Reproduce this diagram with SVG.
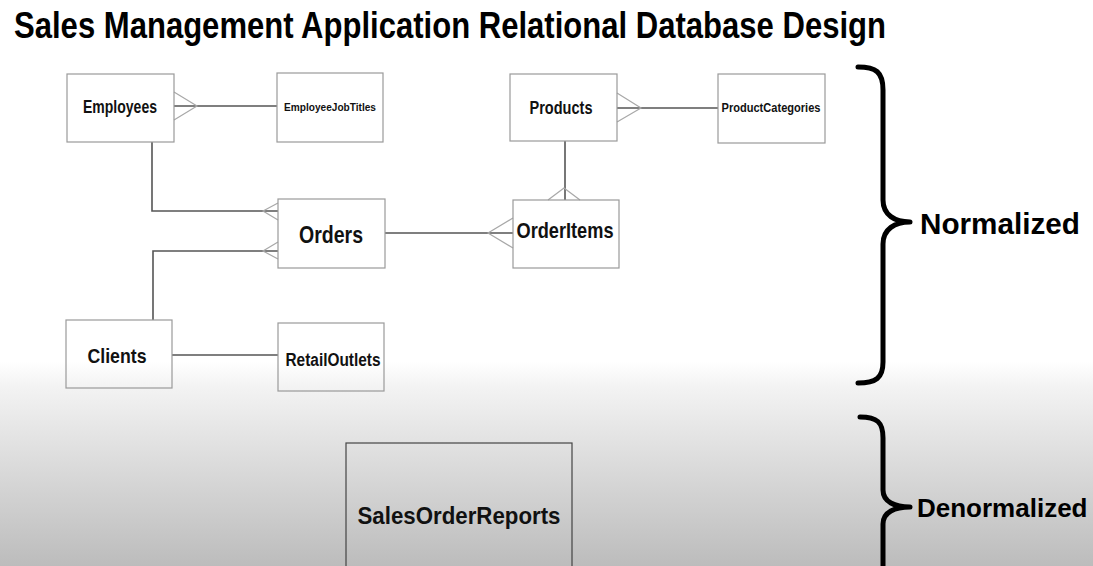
<svg xmlns="http://www.w3.org/2000/svg" width="1093" height="566" viewBox="0 0 1093 566">
<defs>
<linearGradient id="bg" gradientUnits="userSpaceOnUse" x1="0" y1="362" x2="0" y2="566">
<stop offset="0" stop-color="#ffffff"/>
<stop offset="0.12" stop-color="#f3f3f3"/>
<stop offset="1" stop-color="#bcbcbc"/>
</linearGradient>
<style>
.box{fill:none;stroke:#9a9a9a;stroke-width:1.2}
.t{font-family:"Liberation Sans",Arial,sans-serif;font-weight:bold;fill:#111;text-anchor:middle}
.ln{fill:none;stroke:#555;stroke-width:1.6}
.cf{fill:none;stroke:#a8a8a8;stroke-width:1.2}
.br{fill:none;stroke:#000;stroke-width:5;stroke-linecap:round;stroke-linejoin:round}
</style>
</defs>
<rect x="0" y="0" width="1093" height="566" fill="url(#bg)"/>
<text x="14" y="38" font-family="'Liberation Sans',Arial,sans-serif" font-weight="bold" font-size="36" fill="#000" textLength="872" lengthAdjust="spacingAndGlyphs">Sales Management Application Relational Database Design</text>

<g id="connectors">
<line class="ln" x1="174" y1="106" x2="277" y2="106"/>
<path class="cf" d="M174,92 L197,106 L174,120"/>
<line class="ln" x1="617" y1="108" x2="718" y2="108"/>
<path class="cf" d="M617,93 L641,108 L617,122"/>
<path class="ln" d="M152,142 L152,211 L278,211"/>
<path class="cf" d="M278,203 L263,211 L278,220"/>
<path class="ln" d="M153,320 L153,251 L278,251"/>
<path class="cf" d="M278,242 L263,251 L278,259"/>
<line class="ln" x1="385" y1="233" x2="513" y2="233"/>
<path class="cf" d="M513,218 L488,233 L513,248"/>
<line class="ln" x1="565" y1="141" x2="565" y2="200"/>
<path class="cf" d="M548,200 L564,188 L580,200"/>
<line class="ln" x1="172" y1="355" x2="278" y2="355"/>
</g>

<g id="Employees"><rect class="box" x="67" y="74" width="107" height="68"/><text class="t" x="120" y="113" font-size="19" textLength="74" lengthAdjust="spacingAndGlyphs">Employees</text></g>
<g id="EmployeeJobTitles"><rect class="box" x="277" y="73" width="106" height="69"/><text class="t" x="330" y="111" font-size="11" textLength="92" lengthAdjust="spacingAndGlyphs">EmployeeJobTitles</text></g>
<g id="Products"><rect class="box" x="510" y="74" width="107" height="67"/><text class="t" x="561" y="114" font-size="19" textLength="63" lengthAdjust="spacingAndGlyphs">Products</text></g>
<g id="ProductCategories"><rect class="box" x="718" y="74" width="107" height="69"/><text class="t" x="771" y="112" font-size="12" textLength="99" lengthAdjust="spacingAndGlyphs">ProductCategories</text></g>
<g id="Orders"><rect class="box" x="278" y="199" width="107" height="69"/><text class="t" x="331" y="243" font-size="24" textLength="64" lengthAdjust="spacingAndGlyphs">Orders</text></g>
<g id="OrderItems"><rect class="box" x="513" y="200" width="106" height="68"/><text class="t" x="565" y="238" font-size="22" textLength="97" lengthAdjust="spacingAndGlyphs">OrderItems</text></g>
<g id="Clients"><rect class="box" x="66" y="320" width="106" height="68"/><text class="t" x="117" y="363" font-size="21" textLength="59" lengthAdjust="spacingAndGlyphs">Clients</text></g>
<g id="RetailOutlets"><rect class="box" x="278" y="323" width="106" height="68"/><text class="t" x="333" y="366" font-size="18" textLength="95" lengthAdjust="spacingAndGlyphs">RetailOutlets</text></g>
<g id="SalesOrderReports"><rect x="346" y="443" width="226" height="140" fill="none" stroke="#444" stroke-width="1.2"/><text class="t" x="459" y="524" font-size="24" textLength="203" lengthAdjust="spacingAndGlyphs">SalesOrderReports</text></g>

<g id="normalized">
<path class="br" d="M858,67 C876,67 883,72 883,90 L883,200 C883,215 895,222 910,222 C895,222 883,229 883,244 L883,362 C883,378 876,383 858,383"/>
<text x="920" y="234" font-family="'Liberation Sans',Arial,sans-serif" font-weight="bold" font-size="30" fill="#000" textLength="160" lengthAdjust="spacingAndGlyphs">Normalized</text>
</g>
<g id="denormalized">
<path class="br" d="M860,417 C877,417 883,422 883,438 L883,490 C883,502 895,507 910,507 C895,507 883,512 883,524 L883,575"/>
<text x="917" y="517" font-family="'Liberation Sans',Arial,sans-serif" font-weight="bold" font-size="26" fill="#000">Denormalized</text>
</g>
</svg>
